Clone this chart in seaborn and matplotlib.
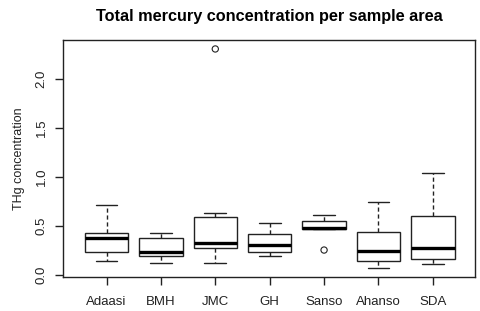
import matplotlib
matplotlib.use("Agg")
import matplotlib.pyplot as plt
import seaborn as sns
import pandas as pd

# --- data ---
areas = ["Adaasi", "BMH", "JMC", "GH", "Sanso", "Ahanso", "SDA"]
whisker_low = [0.146, 0.120, 0.120, 0.196, 0.467, 0.075, 0.112]
q1 = [0.238, 0.194, 0.279, 0.232, 0.467, 0.146, 0.160]
median = [0.375, 0.232, 0.330, 0.305, 0.477, 0.245, 0.279]
q3 = [0.432, 0.381, 0.596, 0.416, 0.555, 0.440, 0.603]
whisker_high = [0.715, 0.426, 0.637, 0.528, 0.610, 0.749, 1.045]
outlier_area = ["JMC", "Sanso"]
outlier_value = [2.31, 0.255]
yticks = [0.0, 0.5, 1.0, 1.5, 2.0]
ytick_labels = ["0.0", "0.5", "1.0", "1.5", "2.0"]

rows = []
for i, a in enumerate(areas):
    for v in (whisker_low[i], q1[i], median[i], q3[i], whisker_high[i]):
        rows.append({"area": a, "THg": v})
df = pd.DataFrame(rows)
out_df = pd.DataFrame({"area": outlier_area, "THg": outlier_value})

sns.set_style("white")
plt.rcParams["font.family"] = ["Liberation Sans", "DejaVu Sans"]

ink = "#222222"
fig = plt.figure(figsize=(4.8, 3.11), dpi=100)
ax = fig.add_axes([63 / 480, 1 - 276.7 / 311, (475 - 63) / 480, (276.7 - 40) / 311])

sns.boxplot(data=df, x="area", y="THg", order=areas, ax=ax,
            color="white", linecolor=ink, linewidth=1.0, width=0.8,
            whis=(0, 100), showfliers=False,
            medianprops={"linewidth": 2.4, "color": "black"},
            whiskerprops={"linestyle": (0, (3, 2))})
sns.stripplot(data=out_df, x="area", y="THg", order=areas, ax=ax,
              jitter=False, marker="o", size=4.5, color="white",
              edgecolor=ink, linewidth=0.8)
for coll in ax.collections:
    coll.set_facecolor("none")
    coll.set_edgecolor(ink)

ax.set_xlim(-0.80, 6.775)
ax.set_ylim(-0.0174, 2.4016)
ax.set_yticks(yticks)
ax.set_yticklabels(ytick_labels)
for s in ax.spines.values():
    s.set_color(ink)
    s.set_linewidth(1.0)
ax.tick_params(axis="both", direction="out", length=6, width=1.0, color=ink,
               labelcolor=ink, labelsize=9.5, left=True, bottom=True)
ax.tick_params(axis="y", labelrotation=90, pad=5)
ax.tick_params(axis="x", pad=8)
for lab in ax.get_yticklabels():
    lab.set_verticalalignment("center")
ax.set_xlabel("")
ax.set_ylabel("THg concentration", fontsize=9, color=ink, labelpad=8)
ax.set_title("Total mercury concentration per sample area", fontsize=11.7,
             fontweight="bold", color="black", pad=14)

fig.savefig("out.png", dpi=100)
